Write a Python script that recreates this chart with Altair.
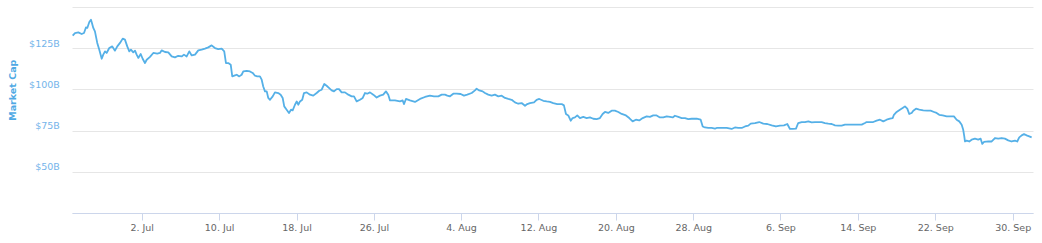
import altair as alt
import pandas as pd

BASE_DATE = "2018-06-24"

days_since_base = [
    0.87, 1.11, 1.45, 1.80, 2.04, 2.24, 2.38, 2.59, 2.76, 2.86, 3.00, 3.17, 3.41, 3.62, 3.87, 4.03, 4.21, 4.38, 4.65, 4.96,
    5.24, 5.48, 5.76, 6.04, 6.27, 6.51, 6.72, 6.89, 7.13, 7.31, 7.48, 7.65, 7.90, 8.10, 8.34, 8.52, 8.86, 9.20, 9.61, 9.89,
    10.07, 10.41, 10.75, 11.10, 11.44, 11.78, 12.13, 12.37, 12.65, 12.92, 13.17, 13.51, 13.85, 14.20, 14.54, 14.88, 15.23,
    15.57, 15.91, 16.27, 16.53, 16.71, 16.95, 17.20, 17.36, 17.64,
    17.82, 18.08, 18.33, 18.50, 18.85, 19.19, 19.47, 19.71, 19.94, 20.22, 20.40, 20.56, 20.74, 20.92, 21.08, 21.26, 21.54,
    21.77, 22.11, 22.36, 22.57, 22.73, 22.98, 23.22, 23.43, 23.60, 23.84, 24.02, 24.18, 24.36, 24.59, 24.77, 25.05, 25.39,
    25.73, 26.08, 26.35, 26.60, 26.87, 27.11, 27.35, 27.63, 27.87, 28.15, 28.39, 28.66, 29.01, 29.35, 29.70, 29.94, 30.21,
    30.56, 30.84, 31.07, 31.31, 31.59, 31.93, 32.28, 32.62, 32.96, 33.24, 33.48, 33.66, 34.00,
    34.17, 34.69, 34.97, 35.10, 35.31, 35.72, 36.24, 36.76, 37.27, 37.79, 38.20, 38.65, 39.00, 39.34, 39.58, 39.86, 40.20,
    40.55, 40.96, 41.30, 41.64, 42.10, 42.44, 42.61, 42.88, 43.23, 43.47, 43.81, 44.16, 44.50, 44.85, 45.20, 45.54, 45.88,
    46.23, 46.57, 46.91, 47.26, 47.61, 47.84, 48.12, 48.54, 48.81, 49.08, 49.50, 49.85, 50.19,
    50.53, 50.94, 51.40, 51.63, 51.84, 52.08, 52.33, 52.53, 52.77, 53.01, 53.29, 53.63, 53.98, 54.32, 54.66, 55.01, 55.35,
    55.63, 55.87, 56.21, 56.56, 56.90, 57.25, 57.60, 58.04, 58.38, 58.73, 59.07, 59.41, 59.77, 60.18, 60.52, 60.86, 61.21,
    61.55, 61.90, 62.25, 62.59, 62.87, 63.10, 63.45, 63.80, 64.14, 64.48, 64.83, 65.35, 65.76, 65.97, 66.20, 66.55, 66.90,
    67.24,
    67.41, 67.93, 68.45, 68.96, 69.30, 69.64, 70.00, 70.34, 70.68, 70.93, 71.37, 71.81, 72.23, 72.64, 73.10, 73.54, 73.95,
    74.37, 74.71, 74.85, 74.99, 75.27, 75.61, 75.84, 76.20, 76.54, 76.88, 77.23, 77.57, 77.91, 78.26, 78.60, 78.94, 79.30,
    79.64, 79.98, 80.33, 80.67, 81.01, 81.36, 81.88, 82.40, 82.74, 82.91, 83.25,
    83.59, 83.94, 84.29, 84.63, 84.98, 85.32, 85.60, 85.73, 86.01, 86.35, 86.63, 86.87, 87.11, 87.31, 87.56, 87.73, 88.01,
    88.35, 88.76, 89.17, 89.52, 89.87, 90.14, 90.41, 90.77, 91.18, 91.59, 91.93, 92.21, 92.48, 92.73, 92.89, 93.00, 93.07,
    93.24, 93.51, 93.76, 94.10, 94.44, 94.69, 94.86, 95.03, 95.48, 95.83, 96.17, 96.51, 96.86, 97.20, 97.54, 97.89, 98.24,
    98.47, 98.68, 98.93, 99.17, 99.44, 99.71, 99.96,
]

market_cap_billion = [
    132.6, 134.2, 134.6, 133.6, 134.2, 137.6, 137.3, 140.9, 142.3, 140.3, 137.3, 135.2, 128.2, 124.1, 118.6, 121.1, 123.1,
    122.1, 125.1, 126.1, 123.5, 126.1, 128.2, 130.8, 130.2, 126.1, 123.1, 124.1, 122.5, 123.5, 121.1, 119.1, 121.5, 118.6,
    116.0, 118.0, 119.7, 122.1, 121.7, 122.1, 123.7, 122.7, 122.5, 120.0, 119.4, 120.4, 120.0, 121.1, 120.0, 123.1, 120.6,
    121.1, 123.7, 124.1, 124.7, 125.5, 126.7, 125.1, 124.5, 124.7, 123.1, 116.0, 116.0, 115.0, 107.9, 108.5,
    108.9, 107.9, 108.9, 110.9, 111.3, 110.9, 110.0, 108.3, 107.9, 107.9, 105.9, 101.8, 98.8, 98.8, 94.8, 93.7, 95.8, 98.2,
    97.8, 96.8, 94.8, 89.7, 87.7, 85.7, 87.7, 87.3, 90.7, 92.7, 90.7, 92.7, 93.7, 97.8, 98.2, 96.8, 96.2, 97.8, 99.2, 99.8,
    103.3, 102.2, 100.9, 99.4, 98.8, 100.2, 100.2, 98.2, 98.2, 96.8, 95.8, 95.8, 92.7, 93.7, 94.8, 97.8, 97.4, 98.2, 96.8,
    95.1, 96.2, 96.8, 98.8, 96.8, 93.3, 93.3,
    93.3, 92.7, 93.3, 91.1, 94.2, 93.3, 92.4, 94.2, 95.4, 96.2, 95.8, 95.8, 96.8, 96.8, 96.2, 95.8, 97.4, 97.4, 97.2, 96.2,
    96.8, 97.8, 99.4, 100.4, 99.4, 98.8, 97.8, 96.8, 96.2, 96.8, 95.8, 96.2, 94.8, 94.2, 93.7, 92.1, 91.3, 91.7, 90.1, 91.1,
    91.7, 92.1, 93.7, 94.2, 93.1, 92.7, 92.4,
    91.7, 91.1, 91.1, 90.3, 85.1, 84.2, 81.0, 82.6, 83.0, 84.2, 82.6, 83.3, 82.6, 83.0, 82.2, 82.0, 82.6, 85.1, 86.3, 85.7,
    87.1, 87.1, 86.3, 85.1, 84.2, 82.6, 80.6, 81.6, 81.2, 82.6, 83.6, 83.3, 84.2, 84.2, 83.0, 83.0, 83.6, 83.3, 83.0, 84.0,
    83.3, 82.6, 82.6, 82.0, 82.2, 82.2, 81.6, 77.5, 76.9, 76.6, 76.6, 76.2,
    76.6, 76.6, 76.6, 76.0, 76.9, 76.6, 76.6, 77.5, 78.0, 79.2, 79.6, 80.2, 79.2, 79.0, 78.2, 77.5, 78.0, 78.2, 79.0, 77.5,
    76.0, 76.0, 76.2, 79.6, 80.2, 80.2, 80.6, 80.0, 80.2, 80.2, 80.2, 79.6, 79.2, 79.0, 78.2, 78.0, 78.0, 78.6, 78.6, 78.6,
    78.6, 78.6, 79.6, 80.2, 80.2,
    80.2, 81.0, 81.6, 80.6, 81.6, 82.2, 82.6, 84.6, 86.3, 87.7, 88.7, 89.7, 88.3, 85.1, 85.7, 87.1, 88.3, 87.7, 87.3, 87.1,
    87.1, 86.3, 85.7, 84.6, 84.2, 83.6, 83.6, 83.6, 81.6, 80.6, 78.6, 75.5, 71.5, 68.4, 68.9, 68.4, 69.5, 70.1, 69.5, 70.1,
    66.9, 68.1, 68.4, 68.4, 70.5, 70.1, 70.5, 70.1, 69.1, 68.4, 68.9, 68.4, 70.9, 72.1, 72.9, 72.1, 71.5, 70.9,
]

x_tick_dates = [
    (2018, 7, 2), (2018, 7, 10), (2018, 7, 18), (2018, 7, 26),
    (2018, 8, 4), (2018, 8, 12), (2018, 8, 20), (2018, 8, 28),
    (2018, 9, 6), (2018, 9, 14), (2018, 9, 22), (2018, 9, 30),
]
y_tick_values = [25, 50, 75, 100, 125, 150]

timestamps = pd.Timestamp(BASE_DATE) + pd.to_timedelta(days_since_base, unit="D")
df = pd.DataFrame({
    "date": timestamps.strftime("%Y-%m-%dT%H:%M:%S"),
    "cap": market_cap_billion,
})

x_domain = [
    alt.DateTime(year=2018, month=6, date=24, hours=19, minutes=12),
    alt.DateTime(year=2018, month=10, date=2, hours=2, minutes=24),
]

FONT = "DejaVu Sans"

chart = alt.Chart(df).mark_line(
    color="#55b0e7", strokeWidth=1.8, strokeJoin="round"
).encode(
    x=alt.X(
        "date:T",
        scale=alt.Scale(domain=x_domain),
        axis=alt.Axis(
            values=[alt.DateTime(year=y, month=m, date=d) for (y, m, d) in x_tick_dates],
            labelExpr="timeFormat(datum.value, '%-d. %b')",
            title=None,
            grid=False,
            domainColor="#ccd6eb",
            tickColor="#ccd6eb",
            tickSize=7,
            labelColor="#666666",
            labelFont=FONT,
            labelFontSize=9.5,
            labelBaseline="alphabetic",
            labelPadding=10.5,
            labelAlign="center",
            labelFlush=False,
            labelOverlap=False,
        ),
    ),
    y=alt.Y(
        "cap:Q",
        scale=alt.Scale(domain=[25, 150], nice=False, zero=False),
        axis=alt.Axis(
            values=y_tick_values,
            labelExpr="(datum.value == 25 || datum.value == 150) ? '' : '$' + datum.value + 'B'",
            title="Market Cap",
            titleColor="#4fa9e4",
            titleFont=FONT,
            titleFontSize=9.5,
            titleFontWeight="bold",
            titleAngle=270,
            titleX=-59.7,
            titleY=82.7,
            titleAlign="center",
            titleBaseline="middle",
            domain=False,
            ticks=False,
            gridColor="#e6e6e6",
            gridWidth=1,
            labelColor="#74b4ea",
            labelFont=FONT,
            labelFontSize=9.5,
            labelPadding=12.7,
            labelBaseline="alphabetic",
            labelOffset=-2,
        ),
    ),
).properties(
    width=961,
    height=206,
    padding={"left": 72, "top": 7, "right": 9, "bottom": 30},
    autosize="none",
    background="white",
).configure_view(stroke=None)

chart.save("out.html", embed_options={"renderer": "svg", "actions": False})
